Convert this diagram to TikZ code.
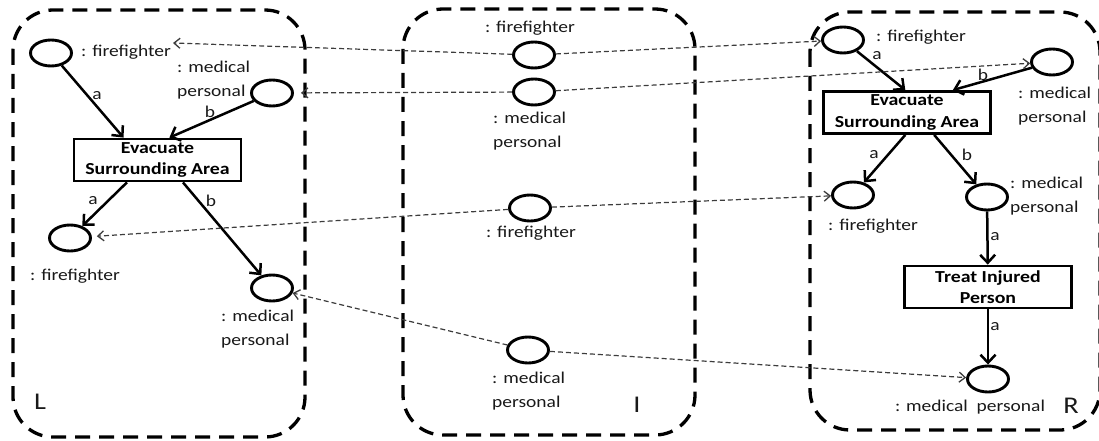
\documentclass[tikz,border=0pt]{standalone}
\usepackage{fontspec}
\setmainfont[FakeStretch=1.18]{Carlito}
\usetikzlibrary{arrows.meta,shapes.geometric,calc}
\definecolor{txt}{RGB}{25,25,25}
\definecolor{mapc}{RGB}{60,60,60}
\begin{document}
\begin{tikzpicture}[x=1pt,y=-1pt,
  obj/.style={ellipse,draw,line width=2.9pt,minimum width=41pt,minimum height=26pt,inner sep=0pt},
  act/.style={draw,line width=2.8pt,minimum width=167pt,minimum height=42pt,inner sep=0pt,align=center,font=\fontsize{16.8}{21.5}\selectfont\bfseries},
  lbl/.style={inner sep=0pt,text=txt,font=\fontsize{16.5}{23.5}\selectfont,align=left},
  elbl/.style={inner sep=0pt,text=txt,font=\fontsize{16.5}{20}\selectfont},
  flow/.style={line width=2.5pt,-{Straight Barb[length=8pt,width=15pt,line width=2.5pt]}},
  mapl/.style={mapc,line width=1.2pt,dash pattern=on 5pt off 3pt,-{Straight Barb[length=6pt,width=10pt,line width=1.3pt]}},
  panel/.style={line width=3.3pt,dash pattern=on 15pt off 9pt,rounded corners=40pt},
  big/.style={inner sep=0pt,text=txt,font=\fontsize{24}{24}\selectfont}
]
\useasboundingbox (0,0) rectangle (1099,441);

% panels
\draw[panel] (13,10) rectangle (305,437);
\draw[panel] (403,9) rectangle (695,435);
\draw[panel] (810,12) rectangle (1100,430);

% left graph
\node[obj] (lf1) at (51,53) {};
\node[lbl,anchor=west] (lf1l) at (81,52) {: firefighter};
\node[obj] (lm1) at (272,93) {};
\node[lbl,anchor=west] (lm1l) at (177,80) {: medical\\personal};
\node[act] (evL) at (157.5,160) {Evacuate\\Surrounding Area};
\node[obj] (lf2) at (70,238) {};
\node[lbl,anchor=west] (lf2l) at (30,276) {: firefighter};
\node[obj] (lm2) at (272,288) {};
\node[lbl,anchor=west] (lm2l) at (221,329) {: medical\\personal};
\node[big] (Ll) at (40,402) {L};

% middle graph
\node[obj] (mf1) at (534,55) {};
\node[lbl] (mf1l) at (530,28) {: firefighter};
\node[obj] (mm1) at (534,92) {};
\node[lbl,anchor=west] (mm1l) at (493,131) {: medical\\personal};
\node[obj] (mf2) at (530,208) {};
\node[lbl] (mf2l) at (531,233) {: firefighter};
\node[obj] (mm2) at (528,350) {};
\node[lbl,anchor=west] (mm2l) at (492,391) {: medical\\personal};
\node[big] (Il) at (637,405) {I};

% right graph
\node[obj] (rf1) at (843,40) {};
\node[lbl,anchor=west] (rf1l) at (876,37) {: firefighter};
\node[obj] (rm1) at (1052,62) {};
\node[lbl,anchor=west] (rm1l) at (1018,106) {: medical\\personal};
\node[act] (evR) at (907,112.5) {Evacuate\\Surrounding Area};
\node[obj] (rf2) at (853,195) {};
\node[lbl,anchor=west] (rf2l) at (828,226) {: firefighter};
\node[obj] (rm2) at (987,197) {};
\node[lbl,anchor=west] (rm2l) at (1010,196) {: medical\\personal};
\node[act] (tr) at (988,287) {Treat Injured\\Person};
\node[obj] (rm3) at (988,379) {};
\node[lbl] (rm3l) at (970,407) {: medical\ \ personal};
\node[big] (Rl) at (1071,406) {R};

% edge labels
\node[elbl] (ea1) at (97,96) {a};
\node[elbl] (eb1) at (210,112) {b};
\node[elbl] (ea2) at (93,201) {a};
\node[elbl] (eb2) at (211,201) {b};
\node[elbl] (ea3) at (877,56) {a};
\node[elbl] (eb3) at (983,75) {b};
\node[elbl] (ea4) at (874,155) {a};
\node[elbl] (eb4) at (967,155) {b};
\node[elbl] (ea5) at (995,237) {a};
\node[elbl] (ea6) at (995,327) {a};

% flows left
\draw[flow] (lf1) -- ($(evL.north west)!0.30!(evL.north east)$);
\draw[flow] (lm1) -- ($(evL.north west)!0.57!(evL.north east)$);
\draw[flow] ($(evL.south west)!0.32!(evL.south east)$) -- (lf2);
\draw[flow] ($(evL.south west)!0.65!(evL.south east)$) -- (lm2);
% flows right
\draw[flow] (rf1) -- ($(evR.north west)!0.49!(evR.north east)$);
\draw[flow] (rm1) -- ($(evR.north west)!0.77!(evR.north east)$);
\draw[flow] ($(evR.south west)!0.49!(evR.south east)$) -- (rf2);
\draw[flow] ($(evR.south west)!0.66!(evR.south east)$) -- (rm2);
\draw[flow] (rm2) -- (tr);
\draw[flow] (tr) -- (rm3);

% mappings
\coordinate (t1) at (173,43);
\draw[mapl] (mf1) -- (t1);
\draw[mapl] (mf1) -- (rf1);
\draw[mapl,shorten >=7pt] (mm1) -- (lm1);
\draw[mapl] (mm1) -- (rm1);
\draw[mapl,shorten >=5pt] (mf2) -- (lf2);
\draw[mapl] (mf2) -- (rf2);
\draw[mapl] (mm2) -- (lm2);
\draw[mapl] (mm2) -- (rm3);
\end{tikzpicture}
\end{document}
